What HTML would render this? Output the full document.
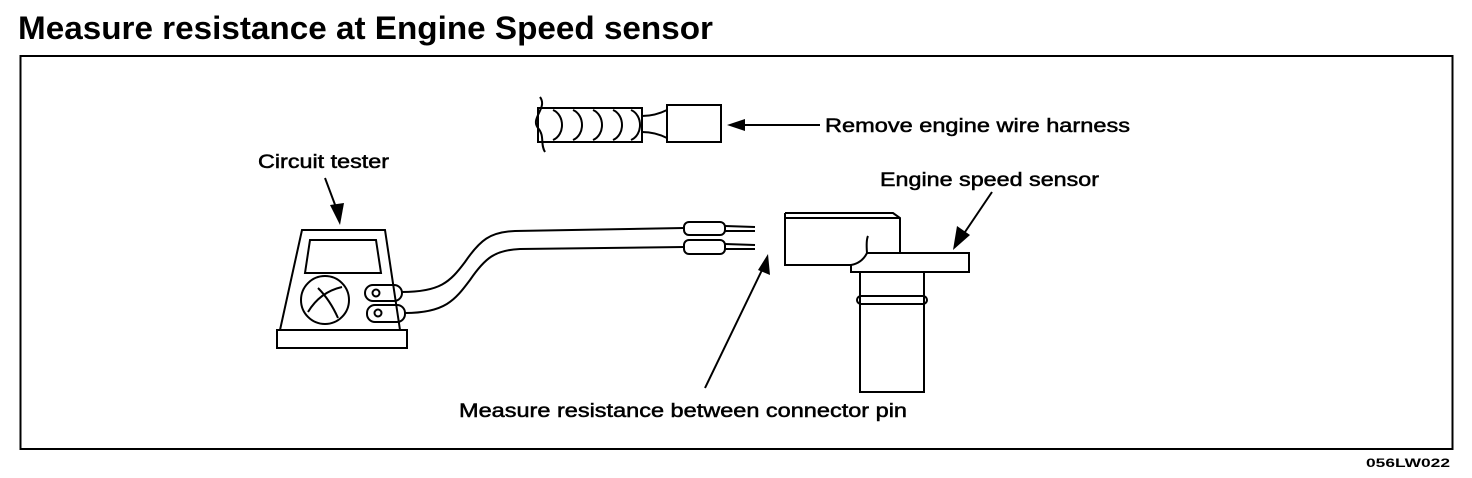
<!DOCTYPE html>
<html><head><meta charset="utf-8"><style>
html,body{margin:0;padding:0;background:#fff;}
svg{display:block;}
text{font-family:"Liberation Sans",sans-serif;fill:#000;}
.lbl{stroke:#000;stroke-width:0.5;}
</style></head><body>
<svg width="1472" height="478" viewBox="0 0 1472 478" xmlns="http://www.w3.org/2000/svg">
<text x="18" y="39" font-size="32" font-weight="bold" textLength="695" lengthAdjust="spacingAndGlyphs">Measure resistance at Engine Speed sensor</text>
<rect x="20.5" y="56" width="1432" height="393" fill="none" stroke="#000" stroke-width="2"/>
<text x="1366" y="467" font-size="12" font-weight="bold" textLength="84" lengthAdjust="spacingAndGlyphs">056LW022</text>

<g fill="none" stroke="#000" stroke-width="2">
<rect x="538" y="108" width="104" height="34"/>
<path d="M540 97 C548 108 530 118 538 128 C545 136 540 144 545 152"/>
<path d="M553 110 C565 115 565 135 553 140 M573 110 C585 115 585 135 573 140 M593 110 C605 115 605 135 593 140 M613 110 C625 115 625 135 613 140 M631 110 C643 115 643 135 631 140"/>
<path d="M642 116 Q655 116 667 110 M642 132 Q655 132 667 138"/>
<rect x="667" y="105" width="54" height="37"/>
<line x1="740" y1="125" x2="820" y2="125"/>
<path d="M302 230 L385 230 L400 330 L280 330 Z"/>
<rect x="277" y="330" width="130" height="18"/>
<path d="M310 240 L376 240 L381 273 L305 273 Z"/>
<circle cx="325" cy="300" r="24"/>
<path d="M308 312 Q320 292 342 287 M318 288 Q330 300 338 318"/>
<rect x="365" y="285" width="37" height="16" rx="8"/>
<rect x="367" y="305" width="38" height="17" rx="8"/>
<circle cx="376" cy="293" r="3.5"/><circle cx="378" cy="313" r="3.5"/>
<path d="M402 292 C440 292 450 282 465 262 C480 240 490 232 515 231 L684 228"/>
<path d="M405 313 C445 313 455 300 470 280 C485 258 495 250 520 249 L684 247"/>
<rect x="684" y="222" width="41" height="13" rx="5"/>
<rect x="684" y="240" width="41" height="14" rx="5"/>
<path d="M725 226 L755 227 M725 231 L755 231 M725 244 L755 245 M725 249 L755 249"/>
<line x1="325" y1="178" x2="337" y2="210"/>
<path d="M785 213 L893 213 L900 218 L900 253 M785 213 L785 265 L851 265"/>
<path d="M785 218 L900 218"/>
<path d="M867 253 Q862 263 851 265 L851 272 L969 272 L969 253 Z"/>
<path d="M867 253 Q866 240 868 236"/>
<path d="M860 272 L860 392 L924 392 L924 272"/>
<rect x="857" y="296" width="70" height="8" rx="4"/>
<line x1="992" y1="192" x2="965" y2="232"/>
<line x1="705" y1="388" x2="762" y2="270"/>
</g>
<g fill="#000">
<polygon points="727,125 745,119 745,131"/>
<polygon points="340,225 330,205 344,203"/>
<polygon points="953,250 957,226 970,235"/>
<polygon points="768,254 770,275 758,270"/>
</g>
<text class="lbl" x="825" y="132" font-size="19" textLength="305" lengthAdjust="spacingAndGlyphs">Remove engine wire harness</text>
<text class="lbl" x="258" y="168" font-size="19" textLength="131" lengthAdjust="spacingAndGlyphs">Circuit tester</text>
<text class="lbl" x="880" y="186" font-size="19" textLength="219" lengthAdjust="spacingAndGlyphs">Engine speed sensor</text>
<text class="lbl" x="459" y="417" font-size="19" textLength="448" lengthAdjust="spacingAndGlyphs">Measure resistance between connector pin</text>
</svg>
</body></html>
